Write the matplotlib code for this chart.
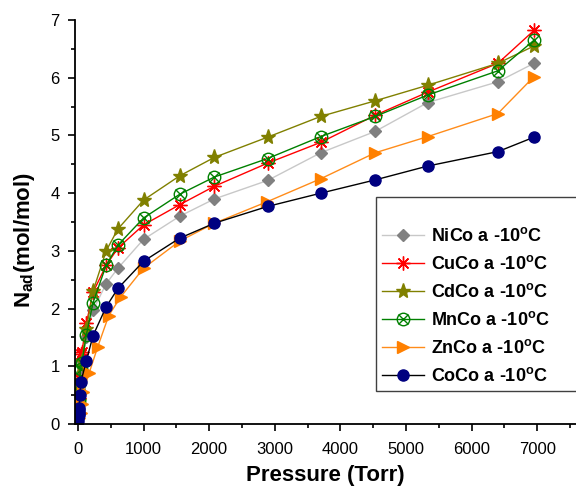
import matplotlib.pyplot as plt
from matplotlib.legend_handler import HandlerTuple
from matplotlib.ticker import MultipleLocator

plt.rcParams['font.family'] = ['Liberation Sans', 'DejaVu Sans']
plt.rcParams['mathtext.fontset'] = 'custom'
plt.rcParams['mathtext.rm'] = 'Liberation Sans:bold'
plt.rcParams['mathtext.default'] = 'rm'

# pressure (Torr) for each series
p_ni = [10, 20, 40, 60, 130, 230, 430, 610, 1000, 1550, 2080, 2890, 3700, 4530, 5330, 6400, 6950]
n_ni = [0.35, 0.6, 0.85, 1.1, 1.5, 1.97, 2.43, 2.7, 3.2, 3.6, 3.9, 4.22, 4.7, 5.07, 5.57, 5.93, 6.25]

p_cu = [10, 20, 40, 60, 130, 230, 430, 610, 1000, 1550, 2080, 2890, 3700, 4530, 5330, 6400, 6950]
n_cu = [0.45, 0.8, 1.22, 1.25, 1.75, 2.28, 2.75, 3.05, 3.45, 3.8, 4.12, 4.52, 4.88, 5.35, 5.75, 6.25, 6.82]

p_cd = [10, 20, 40, 60, 130, 230, 430, 610, 1000, 1550, 2080, 2890, 3700, 4530, 5330, 6400, 6950]
n_cd = [0.4, 0.7, 1.0, 1.1, 1.65, 2.3, 3.0, 3.38, 3.88, 4.3, 4.62, 4.97, 5.33, 5.6, 5.87, 6.25, 6.55]

p_mn = [10, 20, 40, 60, 130, 230, 430, 610, 1000, 1550, 2080, 2890, 3700, 4530, 5330, 6400, 6950]
n_mn = [0.4, 0.7, 0.95, 1.05, 1.55, 2.1, 2.75, 3.1, 3.57, 3.98, 4.28, 4.6, 4.98, 5.33, 5.7, 6.12, 6.65]

p_zn = [20, 40, 60, 80, 170, 300, 470, 650, 1000, 1550, 2080, 2880, 3700, 4530, 5330, 6400, 6950]
n_zn = [0.1, 0.2, 0.35, 0.55, 0.88, 1.33, 1.88, 2.2, 2.7, 3.17, 3.48, 3.85, 4.25, 4.7, 4.98, 5.38, 6.02]

p_co = [5, 8, 10, 12, 15, 20, 30, 45, 130, 230, 430, 610, 1000, 1550, 2080, 2890, 3700, 4530, 5330, 6400, 6950]
n_co = [0.05, 0.1, 0.15, 0.2, 0.25, 0.28, 0.5, 0.73, 1.1, 1.53, 2.03, 2.35, 2.82, 3.22, 3.48, 3.77, 4.0, 4.23, 4.47, 4.72, 4.97]

labels = ['NiCo a -10$^\\mathrm{o}$C', 'CuCo a -10$^\\mathrm{o}$C', 'CdCo a -10$^\\mathrm{o}$C',
          'MnCo a -10$^\\mathrm{o}$C', 'ZnCo a -10$^\\mathrm{o}$C', 'CoCo a -10$^\\mathrm{o}$C']

fig = plt.figure(figsize=(5.76, 4.88), dpi=100)
ax = fig.add_axes([0.130, 0.131, 0.870, 0.828])

h_ni, = ax.plot(p_ni, n_ni, color='#c8c8c8', lw=1, marker='D', ms=6,
                mfc='#808080', mec='#808080')
h_cu, = ax.plot(p_cu, n_cu, color='red', lw=1, marker=(8, 2, 0), ms=10,
                mec='red', mew=1)
h_cd, = ax.plot(p_cd, n_cd, color='#808000', lw=1, marker='*', ms=11,
                mfc='#808000', mec='#808000')
h_mn, = ax.plot(p_mn, n_mn, color='#008000', lw=1, marker='o', ms=9,
                mfc='none', mec='#008000', mew=1)
h_mn2, = ax.plot(p_mn, n_mn, ls='none', marker='x', ms=7,
                 mec='#008000', mew=1)
h_zn, = ax.plot(p_zn, n_zn, color='#ff8c1a', lw=1, marker='>', ms=9,
                mfc='#ff8000', mec='#ff8000')
h_co, = ax.plot(p_co, n_co, color='black', lw=1, marker='o', ms=8,
                mfc='#000080', mec='#000080')

ax.set_xlim(-46, 7590)
ax.set_ylim(0, 7)
ax.xaxis.set_major_locator(MultipleLocator(1000))
ax.xaxis.set_minor_locator(MultipleLocator(500))
ax.yaxis.set_major_locator(MultipleLocator(1))
ax.yaxis.set_minor_locator(MultipleLocator(0.5))
ax.tick_params(which='major', direction='out', length=5, width=1.2, labelsize=12)
ax.tick_params(axis='x', which='major', pad=8)
ax.tick_params(axis='y', which='major', pad=6)
ax.tick_params(which='minor', direction='out', length=3, width=1.2)
for s in ['top', 'right']:
    ax.spines[s].set_visible(False)
for s in ['left', 'bottom']:
    ax.spines[s].set_linewidth(1.3)

ax.set_xlabel('Pressure (Torr)', fontsize=16, fontweight='bold')
ax.set_ylabel('N$_\\mathrm{ad}$(mol/mol)', fontsize=16, fontweight='bold')
ax.xaxis.set_label_coords(0.5, -0.102)
ax.yaxis.set_label_coords(-0.076, 0.455)

leg = fig.legend([h_ni, h_cu, h_cd, (h_mn, h_mn2), h_zn, h_co], labels,
                 handler_map={tuple: HandlerTuple(ndivide=1, pad=0)},
                 loc='upper left', bbox_to_anchor=(0.653, 0.586, 0.4, 0.01),
                 mode='expand',
                 prop={'weight': 'bold', 'size': 13}, title=' ',
                 title_fontsize=10, fancybox=False, edgecolor='#404040',
                 framealpha=1, handlelength=2.3, labelspacing=0.55,
                 borderpad=0.35, handletextpad=0.4, borderaxespad=0)
leg.get_frame().set_linewidth(1)

fig.savefig('out.png', dpi=100)
